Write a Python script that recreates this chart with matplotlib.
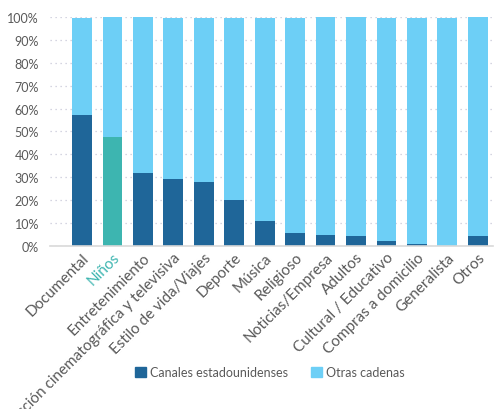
import numpy as np
import matplotlib.pyplot as plt
from matplotlib.patches import Patch
from matplotlib.ticker import PercentFormatter

categories = ['Documental', 'Niños', 'Entretenimiento', 'Ficción cinematográfica y televisiva',
              'Estilo de vida/Viajes', 'Deporte', 'Música', 'Religioso', 'Noticias/Empresa',
              'Adultos', 'Cultural / Educativo', 'Compras a domicilio', 'Generalista', 'Otros']
# share of US channels (%)
us_share = [57.3, 47.7, 32.0, 29.0, 27.7, 20.2, 11.0, 5.8, 4.9, 4.1, 2.3, 0.6, 0.0, 4.1]
# bar totals as drawn (%)
totals = [99.4, 100, 100, 99.4, 99.4, 99.4, 99.4, 99.4, 100, 100, 99.4, 99.4, 99.4, 100]
other_share = [t - u for t, u in zip(totals, us_share)]

dark = '#1F6699'
light = '#6DCFF6'
teal = '#3DB5B0'
grey = '#595959'

plt.rcParams['font.family'] = ['Lato', 'DejaVu Sans']

fig = plt.figure(figsize=(4.95, 4.1), dpi=100)
ax = fig.add_axes([0.101, 0.398, 0.895, 0.558])

x = np.arange(len(categories))
colors = [teal if c == 'Niños' else dark for c in categories]
ax.bar(x, us_share, width=0.65, color=colors, zorder=2)
ax.bar(x, other_share, width=0.65, bottom=us_share, color=light, zorder=2)

ax.set_ylim(0, 100)
ax.set_xlim(-1.05, 13.5)
ax.set_yticks(np.arange(0, 101, 10))
ax.yaxis.set_major_formatter(PercentFormatter(decimals=0))
ax.grid(axis='y', linestyle=(0, (1, 3)), color='#C8C8D8', linewidth=0.9, zorder=0)
ax.tick_params(axis='y', length=0, labelsize=9, labelcolor=grey, pad=8)
ax.tick_params(axis='x', length=0, pad=3)
for s in ['top', 'right', 'left']:
    ax.spines[s].set_visible(False)
ax.spines['bottom'].set_color('#D9D9D9')
ax.spines['bottom'].set_linewidth(1.2)

ax.set_xticks(x)
ax.set_xticklabels(categories, rotation=45, ha='right', rotation_mode='anchor',
                   fontsize=11, color=grey)
for lbl in ax.get_xticklabels():
    if lbl.get_text() == 'Niños':
        lbl.set_color(teal)

handles = [Patch(color=dark, label='Canales estadounidenses'),
           Patch(color=light, label='Otras cadenas')]
fig.legend(handles=handles, loc='center', bbox_to_anchor=(0.545, 0.09), ncol=2,
           frameon=False, fontsize=9, labelcolor=grey, handlelength=0.9,
           handleheight=0.9, columnspacing=1.8, handletextpad=0.3)

fig.savefig('out.png', dpi=100)
